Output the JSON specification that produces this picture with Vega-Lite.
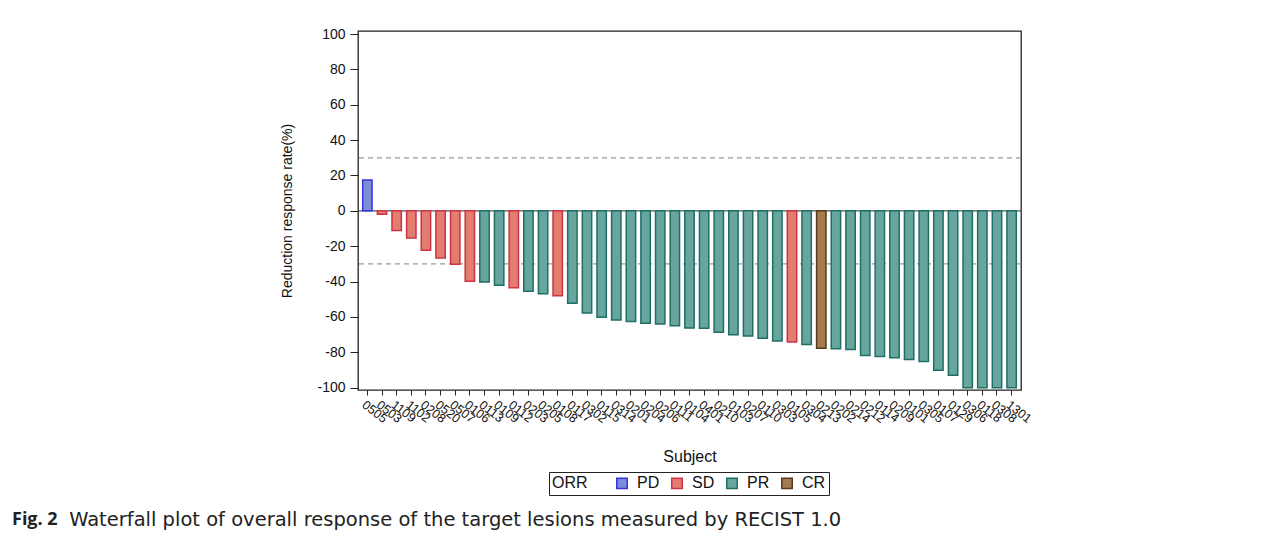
{
  "$schema": "https://vega.github.io/schema/vega-lite/v6.json",
  "autosize": {"type": "none"},
  "width": 663,
  "height": 359,
  "padding": {"left": 358, "top": 31, "right": 263, "bottom": 146},
  "background": "white",
  "title": {
    "text": "Fig. 2",
    "subtitle": "\u2800\u2800\u2800\u2800Waterfall plot of overall response of the target lesions measured by RECIST 1.0",
    "orient": "bottom",
    "anchor": "start",
    "frame": "group",
    "dx": -346,
    "offset": 15,
    "font": "Open Sans",
    "fontSize": 18,
    "fontWeight": "bold",
    "color": "#222",
    "subtitleFont": "DejaVu Sans",
    "subtitleFontSize": 19.5,
    "subtitleColor": "#222",
    "subtitlePadding": -17.5
  },
  "datasets": {
    "bars": [
      {"subject": "0505", "change": 17.4, "ORR": "PD"},
      {"subject": "0503", "change": -1.9, "ORR": "SD"},
      {"subject": "1109", "change": -11.1, "ORR": "SD"},
      {"subject": "1102", "change": -15.4, "ORR": "SD"},
      {"subject": "0208", "change": -22.3, "ORR": "SD"},
      {"subject": "0520", "change": -26.6, "ORR": "SD"},
      {"subject": "0507", "change": -30.2, "ORR": "SD"},
      {"subject": "0106", "change": -39.8, "ORR": "SD"},
      {"subject": "0113", "change": -40.3, "ORR": "PR"},
      {"subject": "0109", "change": -42.0, "ORR": "PR"},
      {"subject": "0112", "change": -43.5, "ORR": "SD"},
      {"subject": "0203", "change": -45.4, "ORR": "PR"},
      {"subject": "0205", "change": -46.9, "ORR": "PR"},
      {"subject": "0108", "change": -48.0, "ORR": "SD"},
      {"subject": "0117", "change": -52.3, "ORR": "PR"},
      {"subject": "0302", "change": -57.8, "ORR": "PR"},
      {"subject": "0115", "change": -60.2, "ORR": "PR"},
      {"subject": "0314", "change": -61.7, "ORR": "PR"},
      {"subject": "0201", "change": -62.6, "ORR": "PR"},
      {"subject": "0204", "change": -63.6, "ORR": "PR"},
      {"subject": "0206", "change": -64.0, "ORR": "PR"},
      {"subject": "0111", "change": -64.9, "ORR": "PR"},
      {"subject": "0104", "change": -66.2, "ORR": "PR"},
      {"subject": "0401", "change": -66.4, "ORR": "PR"},
      {"subject": "0210", "change": -68.7, "ORR": "PR"},
      {"subject": "0103", "change": -70.0, "ORR": "PR"},
      {"subject": "0207", "change": -70.7, "ORR": "PR"},
      {"subject": "0110", "change": -72.0, "ORR": "PR"},
      {"subject": "0303", "change": -73.6, "ORR": "PR"},
      {"subject": "0105", "change": -74.1, "ORR": "SD"},
      {"subject": "0304", "change": -75.6, "ORR": "PR"},
      {"subject": "0213", "change": -77.7, "ORR": "CR"},
      {"subject": "0202", "change": -78.0, "ORR": "PR"},
      {"subject": "0214", "change": -78.4, "ORR": "PR"},
      {"subject": "0212", "change": -81.8, "ORR": "PR"},
      {"subject": "0114", "change": -82.3, "ORR": "PR"},
      {"subject": "0209", "change": -83.1, "ORR": "PR"},
      {"subject": "0101", "change": -84.1, "ORR": "PR"},
      {"subject": "0305", "change": -85.2, "ORR": "PR"},
      {"subject": "0107", "change": -90.2, "ORR": "PR"},
      {"subject": "0129", "change": -93.0, "ORR": "PR"},
      {"subject": "0306", "change": -100.0, "ORR": "PR"},
      {"subject": "0118", "change": -100.0, "ORR": "PR"},
      {"subject": "0308", "change": -100.0, "ORR": "PR"},
      {"subject": "1301", "change": -100.0, "ORR": "PR"}
    ],
    "dashed": [{"change": 30}, {"change": -30}],
    "zero": [{"change": 0}]
  },
  "encoding": {
    "y": {
      "field": "change",
      "type": "quantitative",
      "title": "Reduction response rate(%)",
      "scale": {"domain": [-101.3, 101.7], "nice": false},
      "axis": {
        "values": [-100, -80, -60, -40, -20, 0, 20, 40, 60, 80, 100],
        "labelExpr": "'' + datum.value",
        "labelOverlap": false,
        "grid": false,
        "domain": false,
        "tickSize": 8,
        "tickColor": "#222",
        "labelFont": "Liberation Sans",
        "labelFontSize": 14,
        "labelColor": "#111",
        "labelPadding": 5,
        "titleFont": "Liberation Sans",
        "titleFontSize": 14,
        "titleFontWeight": "normal",
        "titleColor": "#111",
        "titlePadding": 22
      }
    }
  },
  "layer": [
    {
      "data": {"name": "dashed"},
      "mark": {"type": "rule", "color": "#9a9a9a", "strokeDash": [5, 4], "strokeWidth": 1.2}
    },
    {
      "data": {"name": "zero"},
      "mark": {"type": "rule", "color": "#555555", "strokeWidth": 1.2}
    },
    {
      "data": {"name": "bars"},
      "mark": {"type": "bar", "strokeWidth": 1.5},
      "encoding": {
        "x": {
          "field": "subject",
          "type": "nominal",
          "sort": null,
          "title": "Subject",
          "scale": {"paddingInner": 0.36, "paddingOuter": 0.32},
          "axis": {
            "labelAngle": 38,
            "labelAlign": "left",
            "labelBaseline": "top",
            "labelFont": "Liberation Sans",
            "labelFontSize": 12.5,
            "labelColor": "#111",
            "labelPadding": 3,
            "labelOverlap": false,
            "tickSize": 5,
            "tickColor": "#222",
            "domain": false,
            "titleFont": "Liberation Sans",
            "titleFontSize": 16,
            "titleFontWeight": "normal",
            "titleColor": "#111",
            "titlePadding": 24
          }
        },
        "fill": {
          "field": "ORR",
          "type": "nominal",
          "scale": {"domain": ["PD", "SD", "PR", "CR"], "range": ["#7b8dd6", "#e27d70", "#67a69e", "#a27b4f"]},
          "legend": {
            "title": "ORR",
            "orient": "none",
            "legendX": 191,
            "legendY": 441,
            "direction": "horizontal",
            "titleOrient": "left",
            "titleFont": "Liberation Sans",
            "titleFontSize": 16,
            "titleFontWeight": "normal",
            "titleColor": "#111",
            "titlePadding": 26,
            "labelFont": "Liberation Sans",
            "labelFontSize": 16,
            "labelColor": "#111",
            "labelOffset": 7,
            "columnPadding": 8,
            "symbolType": "square",
            "symbolSize": 110,
            "symbolStrokeWidth": 1.5,
            "strokeColor": "#222",
            "padding": 3
          }
        },
        "stroke": {
          "field": "ORR",
          "type": "nominal",
          "scale": {"domain": ["PD", "SD", "PR", "CR"], "range": ["#3535dd", "#cc3344", "#1f6f65", "#5a3a1c"]},
          "legend": {
            "title": "ORR",
            "orient": "none",
            "legendX": 191,
            "legendY": 441,
            "direction": "horizontal",
            "titleOrient": "left",
            "titleFont": "Liberation Sans",
            "titleFontSize": 16,
            "titleFontWeight": "normal",
            "titleColor": "#111",
            "titlePadding": 26,
            "labelFont": "Liberation Sans",
            "labelFontSize": 16,
            "labelColor": "#111",
            "labelOffset": 7,
            "columnPadding": 8,
            "symbolType": "square",
            "symbolSize": 110,
            "symbolStrokeWidth": 1.5,
            "strokeColor": "#222",
            "padding": 3
          }
        }
      }
    }
  ],
  "config": {
    "view": {"stroke": "#222", "strokeWidth": 1.3}
  }
}
